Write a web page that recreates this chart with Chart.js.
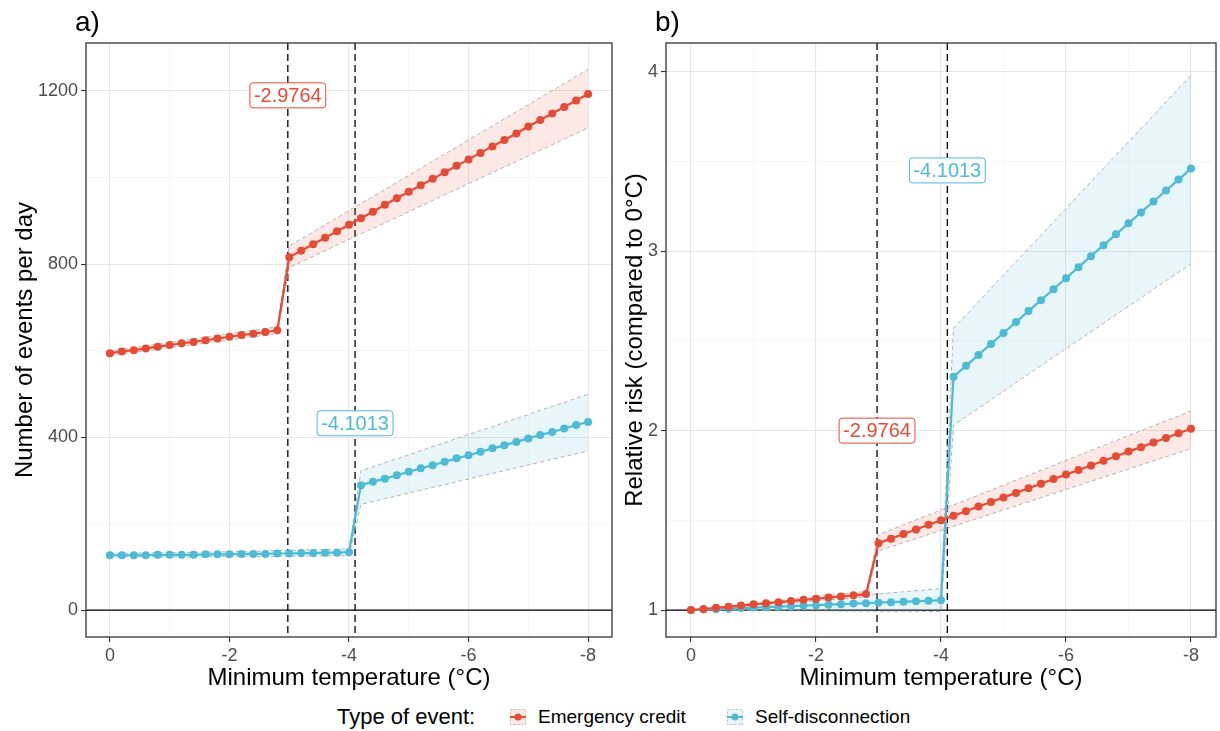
<!DOCTYPE html>
<html>
<head>
<meta charset="utf-8">
<script src="https://cdn.jsdelivr.net/npm/chart.js@4.4.1/dist/chart.umd.min.js"></script>
<style>
    body { margin: 0; background: #fff; font-family: "Liberation Sans", Arial, sans-serif; }
    #wrap { position: relative; width: 1220px; height: 731px; overflow: hidden; }
    #chartA { position: absolute; left: 0; top: 0; }
    #chartB { position: absolute; left: 620px; top: 0; }
    .lg { position: absolute; top: 704px; line-height: 26px; white-space: nowrap; color: #000; }
    .lg.title { font-size: 22px; }
    .lg.item { font-size: 19px; }
    .key { position: absolute; top: 708px; }
</style>
</head>
<body>
<div id="wrap">
    <canvas id="chartA" width="620" height="700"></canvas>
    <canvas id="chartB" width="600" height="700"></canvas>
    <span class="lg title" style="left:337px">Type of event:</span>
    <canvas class="key" id="key1" width="18" height="18" style="left:509px"></canvas>
    <span class="lg item" style="left:538px">Emergency credit</span>
    <canvas class="key" id="key2" width="18" height="18" style="left:726px"></canvas>
    <span class="lg item" style="left:755px">Self-disconnection</span>
</div>
<script>
// DATA
const temps = [0, -0.2, -0.4, -0.6, -0.8, -1, -1.2, -1.4, -1.6, -1.8, -2, -2.2, -2.4, -2.6, -2.8,
    -3, -3.2, -3.4, -3.6, -3.8, -4, -4.2, -4.4, -4.6, -4.8, -5, -5.2, -5.4, -5.6, -5.8, -6,
    -6.2, -6.4, -6.6, -6.8, -7, -7.2, -7.4, -7.6, -7.8, -8];

const thresholds = [-2.9764, -4.1013];
const xTicks = [0, -2, -4, -6, -8];
const xGrid = [0, -1, -2, -3, -4, -5, -6, -7, -8];

// a) events per day
const emergencyA = [594, 598, 601, 605, 609, 613, 617, 620, 624, 628, 632, 636, 639, 643, 647,
    816, 831, 846, 861, 876, 891, 906, 921, 937, 952, 967, 982, 997, 1012, 1027, 1042,
    1057, 1072, 1087, 1102, 1118, 1133, 1148, 1163, 1178, 1193];
const emergencyAUpper = [599, 603, 607, 611, 615, 619, 623, 627, 631, 635, 639, 643, 647, 651, 655,
    842, 858, 874, 891, 907, 924, 940, 956, 972, 989, 1005, 1021, 1038, 1054, 1070, 1087,
    1103, 1119, 1136, 1152, 1168, 1185, 1201, 1217, 1234, 1250];
const emergencyALower = [589, 593, 596, 599, 603, 607, 610, 614, 617, 621, 625, 628, 632, 635, 639,
    792, 805, 818, 831, 844, 857, 870, 883, 895, 908, 921, 934, 947, 960, 973, 986,
    999, 1012, 1024, 1037, 1050, 1063, 1076, 1089, 1102, 1115];
const selfDiscA = [127, 127, 127, 127, 128, 128, 128, 128, 129, 129, 129, 130, 130, 130, 131,
    131, 132, 132, 133, 133, 134, 289, 297, 304, 312, 320, 328, 335, 343, 351, 358,
    366, 374, 381, 389, 397, 405, 412, 420, 428, 435];
const selfDiscAUpper = [131, 131, 132, 132, 133, 133, 133, 134, 134, 135, 135, 136, 136, 137, 138,
    138, 139, 140, 140, 141, 142, 322, 331, 341, 350, 359, 369, 378, 387, 397, 406,
    415, 424, 434, 443, 452, 462, 471, 480, 490, 499];
const selfDiscALower = [123, 123, 123, 123, 123, 123, 123, 123, 124, 124, 124, 124, 124, 124, 124,
    125, 125, 125, 126, 126, 126, 245, 251, 258, 264, 271, 277, 284, 290, 297, 303,
    310, 316, 323, 329, 336, 342, 349, 355, 362, 368];

// b) relative risk
const emergencyB = [1.000, 1.006, 1.013, 1.019, 1.025, 1.032, 1.038, 1.044, 1.051, 1.057, 1.063, 1.070, 1.076, 1.082, 1.089,
    1.373, 1.398, 1.424, 1.449, 1.475, 1.500, 1.526, 1.551, 1.577, 1.602, 1.628, 1.653, 1.679, 1.704, 1.730, 1.755,
    1.781, 1.806, 1.832, 1.857, 1.883, 1.908, 1.934, 1.959, 1.985, 2.010];
const emergencyBUpper = [1.000, 1.008, 1.016, 1.024, 1.031, 1.039, 1.046, 1.053, 1.061, 1.068, 1.075, 1.083, 1.090, 1.097, 1.104,
    1.420, 1.448, 1.475, 1.503, 1.530, 1.558, 1.586, 1.613, 1.641, 1.668, 1.696, 1.724, 1.751, 1.779, 1.806, 1.834,
    1.862, 1.889, 1.917, 1.944, 1.972, 2.000, 2.027, 2.055, 2.082, 2.110];
const emergencyBLower = [1.000, 1.004, 1.010, 1.014, 1.019, 1.025, 1.030, 1.035, 1.041, 1.046, 1.051, 1.057, 1.062, 1.067, 1.074,
    1.330, 1.353, 1.376, 1.398, 1.421, 1.444, 1.467, 1.490, 1.512, 1.535, 1.558, 1.581, 1.604, 1.626, 1.649, 1.672,
    1.695, 1.718, 1.740, 1.763, 1.786, 1.809, 1.832, 1.854, 1.877, 1.900];
const selfDiscB = [1.000, 1.003, 1.005, 1.008, 1.011, 1.014, 1.016, 1.019, 1.022, 1.025, 1.027, 1.030, 1.033, 1.036, 1.038,
    1.041, 1.044, 1.047, 1.049, 1.052, 1.055, 2.300, 2.361, 2.422, 2.483, 2.544, 2.605, 2.666, 2.727, 2.788, 2.849,
    2.911, 2.972, 3.033, 3.094, 3.155, 3.216, 3.277, 3.338, 3.399, 3.460];
const selfDiscBUpper = [1.000, 1.006, 1.012, 1.018, 1.024, 1.030, 1.036, 1.042, 1.048, 1.054, 1.060, 1.066, 1.072, 1.078, 1.084,
    1.090, 1.096, 1.102, 1.108, 1.114, 1.120, 2.570, 2.644, 2.718, 2.793, 2.867, 2.941, 3.015, 3.089, 3.164, 3.238,
    3.312, 3.386, 3.461, 3.535, 3.609, 3.683, 3.757, 3.832, 3.906, 3.980];
const selfDiscBLower = [1.000, 0.999, 0.999, 0.998, 0.998, 0.997, 0.997, 0.996, 0.996, 0.995, 0.995, 0.995, 0.994, 0.994, 0.994,
    0.993, 0.993, 0.993, 0.993, 0.992, 0.992, 2.030, 2.077, 2.125, 2.172, 2.219, 2.267, 2.314, 2.362, 2.409, 2.456,
    2.504, 2.551, 2.598, 2.646, 2.693, 2.740, 2.788, 2.835, 2.882, 2.930];

const yTicksA = [0, 400, 800, 1200];
const yGridA = [0, 200, 400, 600, 800, 1000, 1200];
const yTicksB = [1, 2, 3, 4];
const yGridB = [1, 1.5, 2, 2.5, 3, 3.5, 4];

const RED = '#E64B35';
const BLUE = '#4DBBD5';
const RED_FILL = 'rgba(230,75,53,0.12)';
const BLUE_FILL = 'rgba(77,187,213,0.13)';

Chart.defaults.font.family = '"Liberation Sans", Arial, sans-serif';

function pts(vals) {
    return temps.map(function (t, i) { return { x: t, y: vals[i] }; });
}

function ribbon(upper, lower, fillColor) {
    var edge = { borderColor: '#a3a3a3', borderWidth: 0.8, borderDash: [4, 3], pointRadius: 0, tension: 0 };
    return [
        Object.assign({ data: pts(upper), fill: false, order: 5 }, edge),
        Object.assign({ data: pts(lower), fill: '-1', backgroundColor: fillColor, order: 5 }, edge)
    ];
}

function series(vals, color) {
    return {
        data: pts(vals), borderColor: color, backgroundColor: color, borderWidth: 2.2,
        pointRadius: 4, pointHoverRadius: 4, pointBorderWidth: 0, fill: false, tension: 0, order: 1
    };
}

function gridScale(majors, grid, min, max, extra) {
    return Object.assign({
        type: 'linear', min: min, max: max,
        afterBuildTicks: function (s) { s.ticks = grid.map(function (v) { return { value: v }; }); },
        ticks: {
            autoSkip: false, maxRotation: 0, color: '#4d4d4d', font: { size: 18 }, padding: 3,
            callback: function (v) { return majors.includes(v) ? String(v) : ''; }
        },
        grid: {
            color: function (c) { return majors.includes(c.tick.value) ? '#e6e6e6' : '#f2f2f2'; },
            lineWidth: function (c) { return majors.includes(c.tick.value) ? 1.1 : 0.6; },
            tickColor: function (c) { return majors.includes(c.tick.value) ? '#333' : 'rgba(0,0,0,0)'; },
            tickLength: 5
        },
        border: { display: false }
    }, extra);
}

// panel extras: title, reference lines, threshold labels, frame
function panelPlugin(title, hValue, labels) {
    return {
        id: 'panel',
        beforeDatasetsDraw: function (chart) {
            var ctx = chart.ctx, a = chart.chartArea, sx = chart.scales.x, sy = chart.scales.y;
            ctx.save();
            ctx.strokeStyle = '#000';
            ctx.lineWidth = 1.3;
            var yy = sy.getPixelForValue(hValue);
            ctx.beginPath(); ctx.moveTo(a.left, yy); ctx.lineTo(a.right, yy); ctx.stroke();
            ctx.setLineDash([7, 4]);
            thresholds.forEach(function (t) {
                var xx = sx.getPixelForValue(t);
                ctx.beginPath(); ctx.moveTo(xx, a.top); ctx.lineTo(xx, a.bottom); ctx.stroke();
            });
            ctx.restore();
        },
        afterDatasetsDraw: function (chart) {
            var ctx = chart.ctx, sx = chart.scales.x, sy = chart.scales.y;
            ctx.save();
            ctx.font = '20px "Liberation Sans", Arial, sans-serif';
            ctx.textAlign = 'center';
            ctx.textBaseline = 'middle';
            labels.forEach(function (l) {
                var txt = l.t.toFixed(4);
                var cx = sx.getPixelForValue(l.t), cy = sy.getPixelForValue(l.y);
                var w = ctx.measureText(txt).width + 8, h = 25;
                ctx.fillStyle = '#fff';
                ctx.strokeStyle = l.color;
                ctx.lineWidth = 1;
                ctx.beginPath();
                ctx.roundRect(cx - w / 2, cy - h / 2, w, h, 3);
                ctx.fill(); ctx.stroke();
                ctx.fillStyle = l.color;
                ctx.fillText(txt, cx, cy + 1);
            });
            ctx.restore();
        },
        afterDraw: function (chart) {
            var ctx = chart.ctx, a = chart.chartArea;
            ctx.save();
            ctx.strokeStyle = '#333';
            ctx.lineWidth = 1.3;
            ctx.strokeRect(a.left, a.top, a.right - a.left, a.bottom - a.top);
            ctx.fillStyle = '#000';
            ctx.font = '28px "Liberation Sans", Arial, sans-serif';
            ctx.textBaseline = 'alphabetic';
            ctx.fillText(title, a.left - 11, 31);
            ctx.restore();
        }
    };
}

function makeChart(id, cfg) {
    var xs = gridScale(xTicks, xGrid, -8.4, 0.4, {
        reverse: true,
        title: { display: true, text: 'Minimum temperature (°C)', color: '#000', font: { size: 24 }, padding: { top: 0, bottom: 7 } },
        afterFit: function (s) { s.height = 63; }
    });
    var ys = gridScale(cfg.yTicks, cfg.yGrid, cfg.yMin, cfg.yMax, {
        title: { display: true, text: cfg.yTitle, color: '#000', font: { size: 24 }, padding: { top: cfg.yTitlePad, bottom: 0 } },
        afterFit: function (s) { s.width = cfg.yWidth; }
    });
    return new Chart(document.getElementById(id), {
        type: 'line',
        data: {
            datasets: ribbon(cfg.redUp, cfg.redLo, RED_FILL)
                .concat(ribbon(cfg.blueUp, cfg.blueLo, BLUE_FILL))
                .concat([series(cfg.red, RED), series(cfg.blue, BLUE)])
        },
        options: {
            responsive: false,
            animation: false,
            layout: { padding: { top: 43, right: cfg.padRight, left: 0, bottom: 0 } },
            scales: { x: xs, y: ys },
            plugins: { legend: { display: false }, tooltip: { enabled: false } }
        },
        plugins: [panelPlugin(cfg.title, cfg.hValue, cfg.labels)]
    });
}

// a)
makeChart('chartA', {
    title: 'a)', yTitle: 'Number of events per day', yTitlePad: 11, yWidth: 86, padRight: 8,
    yTicks: yTicksA, yGrid: yGridA, yMin: -62, yMax: 1311, hValue: 0,
    red: emergencyA, redUp: emergencyAUpper, redLo: emergencyALower,
    blue: selfDiscA, blueUp: selfDiscAUpper, blueLo: selfDiscALower,
    labels: [{ t: thresholds[0], y: 1190, color: RED }, { t: thresholds[1], y: 432, color: BLUE }]
});

// b)
makeChart('chartB', {
    title: 'b)', yTitle: 'Relative risk (compared to 0°C)', yTitlePad: 1, yWidth: 46, padRight: 2,
    yTicks: yTicksB, yGrid: yGridB, yMin: 0.85, yMax: 4.16, hValue: 1,
    red: emergencyB, redUp: emergencyBUpper, redLo: emergencyBLower,
    blue: selfDiscB, blueUp: selfDiscBUpper, blueLo: selfDiscBLower,
    labels: [{ t: thresholds[0], y: 2.0, color: RED }, { t: thresholds[1], y: 3.45, color: BLUE }]
});

// LEGEND KEYS
function drawKey(id, color, fill) {
    var c = document.getElementById(id).getContext('2d');
    c.fillStyle = fill;
    c.fillRect(1, 1, 16, 16);
    c.strokeStyle = '#b0b0b0';
    c.lineWidth = 0.8;
    c.setLineDash([2, 2]);
    c.strokeRect(1.5, 1.5, 15, 15);
    c.setLineDash([]);
    c.strokeStyle = color;
    c.lineWidth = 2;
    c.beginPath(); c.moveTo(1, 9); c.lineTo(17, 9); c.stroke();
    c.fillStyle = color;
    c.beginPath(); c.arc(9, 9, 3.5, 0, Math.PI * 2); c.fill();
}
drawKey('key1', RED, RED_FILL);
drawKey('key2', BLUE, BLUE_FILL);
</script>
</body>
</html>
